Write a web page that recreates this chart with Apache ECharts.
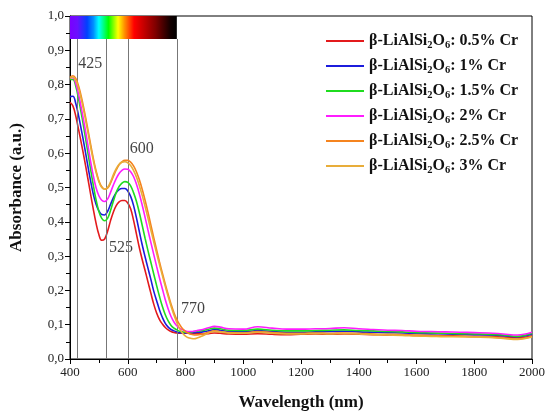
<!DOCTYPE html>
<html>
<head>
<meta charset="utf-8">
<script src="https://cdn.jsdelivr.net/npm/echarts@6/dist/echarts.min.js"></script>
<style>
  html, body { margin: 0; padding: 0; background: #fff; }
  #chart { width: 548px; height: 416px; }
</style>
</head>
<body>
<div id="chart"></div>
<script>
// wavelength grid (nm)
const wavelengths = [
  400, 410, 420, 430, 440, 450, 460, 470, 480, 490,
  500, 510, 520, 530, 540, 550, 560, 570, 580, 590,
  600, 610, 620, 630, 640, 650, 660, 670, 680, 690,
  700, 710, 720, 730, 740, 750, 760, 770, 780, 790,
  800, 810, 820, 830, 840, 860, 880, 900, 920, 950,
  1000, 1050, 1100, 1150, 1200, 1250, 1300, 1350, 1400, 1450,
  1500, 1550, 1600, 1650, 1700, 1750, 1800, 1850, 1900, 1950, 2000
];

const cr05 = [
  .748, .738, .708, .668, .626, .582, .535, .487, .44, .397,
  .363, .346, .35, .372, .402, .428, .447, .458, .462, .462,
  .455, .438, .405, .365, .325, .29, .258, .225, .192, .16,
  .134, .115, .102, .092, .085, .08, .077, .076, .075, .075,
  .075, .075, .074, .074, .074, .073, .074, .076, .075, .073,
  .072, .074, .072, .071, .072, .073, .072, .073, .072, .071,
  .07, .07, .069, .069, .068, .067, .066, .066, .064, .062, .068
];
const cr1 = [
  .765, .766, .745, .708, .665, .62, .572, .525, .483, .452,
  .432, .421, .42, .43, .45, .47, .485, .494, .497, .497,
  .49, .474, .448, .412, .372, .333, .298, .265, .232, .198,
  .17, .143, .121, .104, .093, .086, .082, .079, .077, .076,
  .076, .076, .077, .077, .078, .079, .082, .086, .084, .08,
  .079, .083, .08, .078, .078, .079, .08, .081, .079, .078,
  .077, .076, .075, .074, .073, .072, .071, .07, .068, .065, .072
];
const cr15 = [
  .815, .815, .795, .757, .712, .663, .612, .56, .51, .465,
  .43, .41, .403, .41, .432, .46, .485, .503, .513, .517,
  .515, .505, .485, .46, .427, .39, .352, .316, .282, .248,
  .214, .182, .153, .129, .111, .098, .09, .085, .081, .079,
  .078, .078, .079, .08, .081, .083, .087, .09, .088, .084,
  .083, .087, .084, .082, .082, .083, .084, .085, .083, .082,
  .08, .079, .077, .076, .075, .074, .073, .072, .07, .066, .075
];
const cr2 = [
  .82, .82, .803, .77, .728, .682, .633, .583, .537, .5,
  .476, .463, .459, .466, .485, .507, .526, .541, .55, .554,
  .553, .546, .532, .51, .482, .449, .413, .376, .34, .305,
  .27, .236, .204, .173, .146, .124, .108, .097, .09, .085,
  .082, .08, .08, .081, .083, .086, .091, .095, .093, .088,
  .087, .094, .09, .087, .087, .088, .089, .091, .088, .086,
  .084, .083, .081, .08, .079, .078, .077, .076, .073, .07, .078
];
const cr25 = [
  .822, .826, .818, .795, .762, .722, .678, .632, .588, .55,
  .52, .502, .495, .498, .512, .532, .551, .566, .575, .579,
  .579, .574, .563, .546, .523, .495, .463, .428, .391, .354,
  .318, .283, .25, .218, .188, .16, .135, .115, .1, .088,
  .08, .075, .072, .07, .07, .073, .078, .082, .08, .077,
  .076, .08, .077, .075, .075, .076, .075, .076, .075, .073,
  .072, .071, .069, .068, .067, .066, .065, .064, .061, .058, .066
];
const cr3 = [
  .818, .822, .812, .788, .754, .714, .67, .625, .582, .545,
  .517, .5, .495, .5, .516, .537, .555, .568, .574, .575,
  .572, .564, .55, .531, .506, .477, .445, .411, .376, .342,
  .308, .275, .243, .212, .182, .154, .128, .106, .088, .075,
  .067, .062, .06, .059, .061, .068, .076, .08, .079, .076,
  .075, .078, .075, .073, .073, .074, .073, .074, .073, .071,
  .07, .069, .067, .066, .065, .065, .064, .063, .06, .057, .064
];

const concentrations = ['0.5%', '1%', '1.5%', '2%', '2.5%', '3%'];
const seriesValues = [cr05, cr1, cr15, cr2, cr25, cr3];
const colors = ['#e31a1c', '#1c1cdc', '#1fdc1f', '#ff1cff', '#f5841f', '#e8ad3a'];

// marked wavelengths and their labels
const markedLines = [425, 525, 600, 770];
const markedLabels = [[427, 0.862, '425'], [533, 0.323, '525'], [605, 0.614, '600'], [783, 0.145, '770']];
// visible spectrum strip (nm, absorbance)
const stripX = [400, 770];
const stripY = [0.933, 1.0];

const serif = '"Liberation Serif", "Times New Roman", serif';

const chart = echarts.init(document.getElementById('chart'));

const lineSeries = concentrations.map((c, i) => ({
  name: c,
  type: 'line',
  smooth: 0.4,
  symbol: 'none',
  lineStyle: { width: 1.6, color: colors[i] },
  itemStyle: { color: colors[i] },
  data: wavelengths.map((w, j) => [w, seriesValues[i][j]]),
  z: 3 + i
}));

const extras = {
  name: 'marks',
  type: 'scatter',
  symbolSize: 1,
  itemStyle: { color: 'rgba(0,0,0,0)' },
  silent: true,
  data: markedLabels.map(m => ({ value: [m[0], m[1]], name: m[2] })),
  label: {
    show: true,
    position: 'right',
    distance: 0,
    formatter: p => p.name,
    fontFamily: serif,
    fontSize: 16,
    color: '#111'
  },
  markLine: {
    silent: true,
    symbol: 'none',
    label: { show: false },
    lineStyle: { color: '#777', width: 1, type: 'solid' },
    data: markedLines.map(w => [{ coord: [w, 0] }, { coord: [w, stripY[0]] }])
  },
  markArea: {
    silent: true,
    itemStyle: {
      color: new echarts.graphic.LinearGradient(0, 0, 1, 0, [
        { offset: 0, color: '#7a00ff' },
        { offset: 0.07, color: '#6a10ff' },
        { offset: 0.16, color: '#0040ff' },
        { offset: 0.22, color: '#0090ff' },
        { offset: 0.27, color: '#00ffff' },
        { offset: 0.36, color: '#00ff00' },
        { offset: 0.45, color: '#ffff00' },
        { offset: 0.51, color: '#ff9000' },
        { offset: 0.6, color: '#ff0000' },
        { offset: 0.8, color: '#800000' },
        { offset: 0.94, color: '#120000' },
        { offset: 1, color: '#000000' }
      ])
    },
    data: [[{ coord: [stripX[0], stripY[0]] }, { coord: [stripX[1], stripY[1]] }]]
  },
  z: 2
};

const option = {
  backgroundColor: '#fff',
  animation: false,
  grid: {
    left: 70, right: 15, top: 16, bottom: 57,
    show: true, borderColor: '#000', borderWidth: 1
  },
  legend: {
    orient: 'vertical',
    left: 321,
    top: 28,
    itemWidth: 38,
    itemHeight: 2,
    itemGap: 7,
    icon: 'rect',
    data: concentrations,
    formatter: name => '{b|β-LiAlSi}{s|2}{b|O}{s|6}{b|: ' + name + ' Cr}',
    textStyle: {
      rich: {
        b: { fontFamily: serif, fontSize: 16, fontWeight: 'bold', color: '#111', lineHeight: 20 },
        s: { fontFamily: serif, fontSize: 10.5, fontWeight: 'bold', color: '#111', verticalAlign: 'bottom', lineHeight: 13, padding: [6, 0, 0, 0] }
      }
    }
  },
  xAxis: {
    type: 'value',
    min: 400,
    max: 2000,
    interval: 200,
    name: 'Wavelength (nm)',
    nameLocation: 'middle',
    nameGap: 35,
    nameTextStyle: { fontFamily: serif, fontSize: 17, fontWeight: 'bold', color: '#111' },
    axisLine: { lineStyle: { color: '#000', width: 1 } },
    axisTick: { show: true, inside: false, length: 5, lineStyle: { color: '#000' } },
    minorTick: { show: true, splitNumber: 2, length: 4, lineStyle: { color: '#000' } },
    axisLabel: { fontFamily: serif, fontSize: 13, color: '#222', margin: 7, formatter: v => String(v) },
    splitLine: { show: false }
  },
  yAxis: {
    type: 'value',
    min: 0,
    max: 1,
    interval: 0.1,
    name: 'Absorbance (a.u.)',
    nameLocation: 'middle',
    nameGap: 45,
    nameTextStyle: { fontFamily: serif, fontSize: 17, fontWeight: 'bold', color: '#111' },
    axisLine: { show: true, lineStyle: { color: '#000', width: 1 } },
    axisTick: { show: true, inside: false, length: 5, lineStyle: { color: '#000' } },
    minorTick: { show: true, splitNumber: 2, length: 4, lineStyle: { color: '#000' } },
    axisLabel: {
      fontFamily: serif, fontSize: 13, color: '#222', margin: 6,
      formatter: v => v.toFixed(1).replace('.', ',')
    },
    splitLine: { show: false }
  },
  series: [extras].concat(lineSeries)
};

chart.setOption(option);
</script>
</body>
</html>
